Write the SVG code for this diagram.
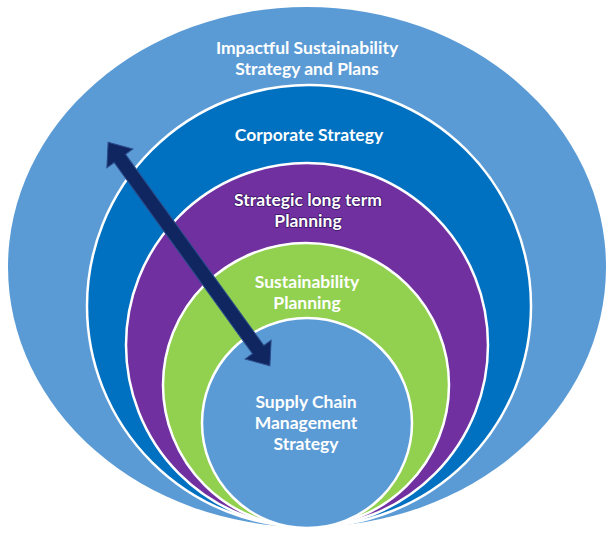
<svg xmlns="http://www.w3.org/2000/svg" width="614" height="540" viewBox="0 0 614 540">
  <style>
    .ring { stroke: #FFFFFF; stroke-width: 2.5; }
    .lbl { font-family: Lato, "Liberation Sans", Arial, sans-serif; font-weight: bold; font-size: 17.5px; fill: #FFFFFF; text-anchor: middle; }
    .shadow { stroke: #3A1466; stroke-width: 1.6; paint-order: stroke; stroke-linejoin: round; }
    .arrow { fill: #0F2660; stroke: #2C4D8C; stroke-width: 1; stroke-linejoin: miter; }
  </style>
  <rect width="614" height="540" fill="#FFFFFF"/>
  <g id="ring-impactful">
    <ellipse cx="307" cy="267" rx="299" ry="260" fill="#5B9BD5"/>
    <text class="lbl" x="307" y="54">Impactful Sustainability</text>
    <text class="lbl" x="307" y="75">Strategy and Plans</text>
  </g>
  <g id="ring-corporate">
    <ellipse class="ring" cx="309" cy="306" rx="222" ry="221" fill="#0070C0"/>
    <text class="lbl" x="309" y="141">Corporate Strategy</text>
  </g>
  <g id="ring-strategic">
    <ellipse class="ring" cx="307" cy="345" rx="181" ry="182" fill="#7030A0"/>
    <text class="lbl shadow" x="308" y="206">Strategic long term</text>
    <text class="lbl shadow" x="308" y="227">Planning</text>
  </g>
  <g id="ring-sustainability">
    <ellipse class="ring" cx="306" cy="385" rx="143" ry="142" fill="#92D050"/>
    <text class="lbl" x="307" y="288">Sustainability</text>
    <text class="lbl" x="307" y="309">Planning</text>
  </g>
  <g id="core-supply-chain">
    <ellipse class="ring" cx="307" cy="423" rx="105" ry="105" fill="#5B9BD5"/>
    <text class="lbl" x="306" y="408">Supply Chain</text>
    <text class="lbl" x="306" y="429">Management</text>
    <text class="lbl" x="306" y="450">Strategy</text>
  </g>
  <g id="connectors">
    <g transform="translate(189 254) rotate(54.12)">
      <polygon class="arrow" points="-138,0 -118,-16 -118,-7 118,-7 118,-16 138,0 118,16 118,7 -118,7 -118,16"/>
    </g>
  </g>
</svg>
